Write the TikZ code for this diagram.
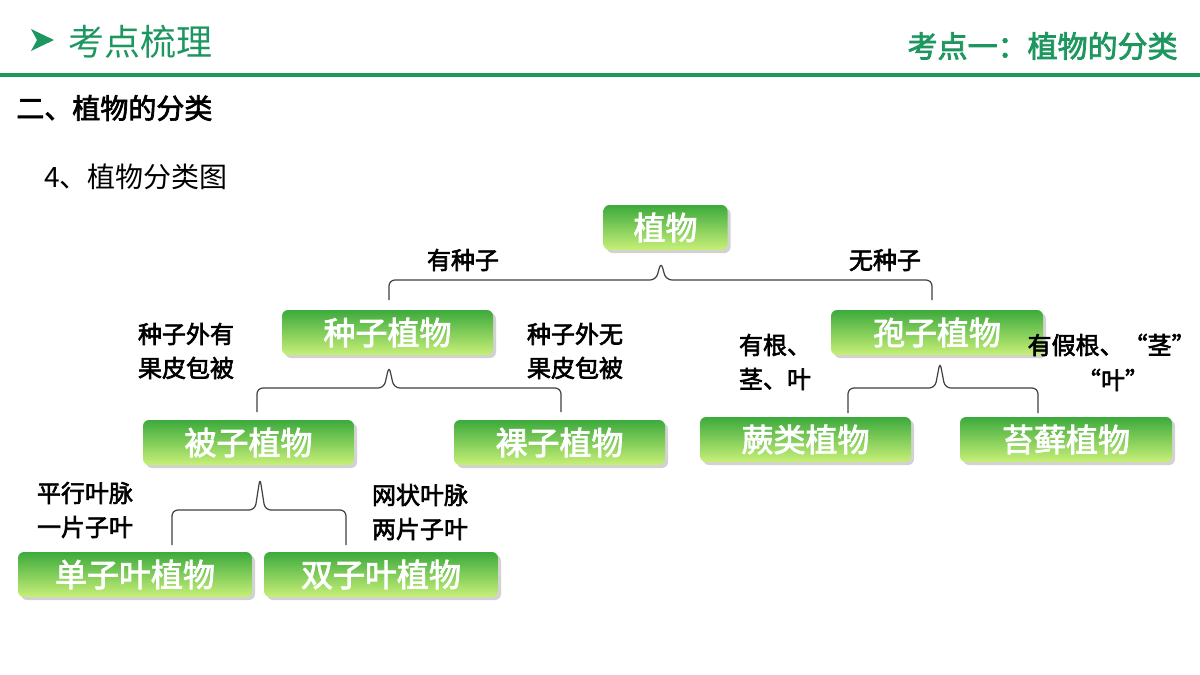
\documentclass[tikz,border=0pt]{standalone}
\usepackage{fontspec}
\setmainfont{Noto Sans CJK SC}[AutoFakeBold=2.5]
\newfontfamily\cjkb{Noto Sans CJK SC}[AutoFakeBold=3]
\usetikzlibrary{shadows}
\definecolor{hdr}{RGB}{30,150,95}
\definecolor{gtop}{RGB}{60,170,60}
\definecolor{gbot}{RGB}{200,240,120}
\begin{document}
\begin{tikzpicture}[x=0.5pt,y=-0.5pt,
  box/.style={draw=none,rounded corners=3pt,top color=gtop,bottom color=gbot,
    drop shadow={shadow xshift=1.5pt,shadow yshift=-1.5pt,opacity=0.35},
    text=white,font=\fontsize{16}{18}\selectfont\bfseries,inner sep=0pt},
  br/.style={draw=black!75,line width=0.6pt,rounded corners=3pt},
  lab/.style={font=\fontsize{12}{17}\selectfont\bfseries,align=left,inner sep=0pt}]
\useasboundingbox[fill=white] (0,0) rectangle (1200,675);
% header
\fill[hdr] (31,29) -- (54,40) -- (31,51) -- (37,40) -- cycle;
\node[anchor=west,text=hdr,font=\fontsize{18}{20}\selectfont,inner sep=0pt] (t1) at (68,42) {考点梳理};
\node[anchor=east,text=hdr,font=\fontsize{15}{18}\selectfont\bfseries,inner sep=0pt] (t2) at (1178,46) {考点一：植物的分类};
\fill[hdr] (0,73) rectangle (1200,77);
\node[anchor=west,font=\fontsize{14}{16}\selectfont\bfseries,inner sep=0pt] (t3) at (16,108) {二、植物的分类};
\node[anchor=west,font=\fontsize{14}{16}\selectfont,inner sep=0pt] (t4) at (44,177) {4、植物分类图};
% boxes
\node[box,minimum width=62pt,minimum height=22.5pt] (zw) at (665.5,227.5) {植物};
\node[box,minimum width=105.5pt,minimum height=22.5pt] (zz) at (387.5,332.5) {种子植物};
\node[box,minimum width=106pt,minimum height=22.5pt] (bz) at (937,332.5) {孢子植物};
\node[box,minimum width=105.5pt,minimum height=22.5pt] (bei) at (248.5,442.5) {被子植物};
\node[box,minimum width=105.5pt,minimum height=22.5pt] (luo) at (559.5,442.5) {裸子植物};
\node[box,minimum width=105.5pt,minimum height=22.5pt] (jue) at (805.5,439.5) {蕨类植物};
\node[box,minimum width=106pt,minimum height=22.5pt] (tai) at (1066,439.5) {苔藓植物};
\node[box,minimum width=117pt,minimum height=22.5pt] (dan) at (135,574.5) {单子叶植物};
\node[box,minimum width=117pt,minimum height=22.5pt] (shu) at (381,574.5) {双子叶植物};
% brackets
\coordinate (a1) at (389,300); \coordinate (a2) at (932,300);
\draw[br] (a1) -- (389,280) -- (656,280) -- (661,262) -- (666,280) -- (932,280) -- (a2);
\coordinate (b1) at (257,412); \coordinate (b2) at (561,412);
\draw[br] (b1) -- (257,388) -- (384,388) -- (389,366) -- (394,388) -- (561,388) -- (b2);
\coordinate (c1) at (848,413); \coordinate (c2) at (1038,413);
\draw[br] (c1) -- (848,388) -- (935,388) -- (940,362) -- (945,388) -- (1038,388) -- (c2);
\coordinate (d1) at (172,545); \coordinate (d2) at (346,545);
\draw[br] (d1) -- (172,510) -- (255,510) -- (260,478) -- (265,510) -- (346,510) -- (d2);
% labels
\node[lab] (l1) at (463,260) {有种子};
\node[lab] (l2) at (885,260) {无种子};
\node[lab] (l3) at (186,351) {种子外有\\果皮包被};
\node[lab] (l4) at (575,351) {种子外无\\果皮包被};
\node[lab] (l5) at (775,362) {有根、\\茎、叶};
\node[lab,anchor=east] (l6) at (1196,345) {有假根、“茎”};
\node[lab] (l7) at (1113,380) {“叶”};
\node[lab] (l8) at (85,510) {平行叶脉\\一片子叶};
\node[lab] (l9) at (420,512) {网状叶脉\\两片子叶};
\end{tikzpicture}
\end{document}
